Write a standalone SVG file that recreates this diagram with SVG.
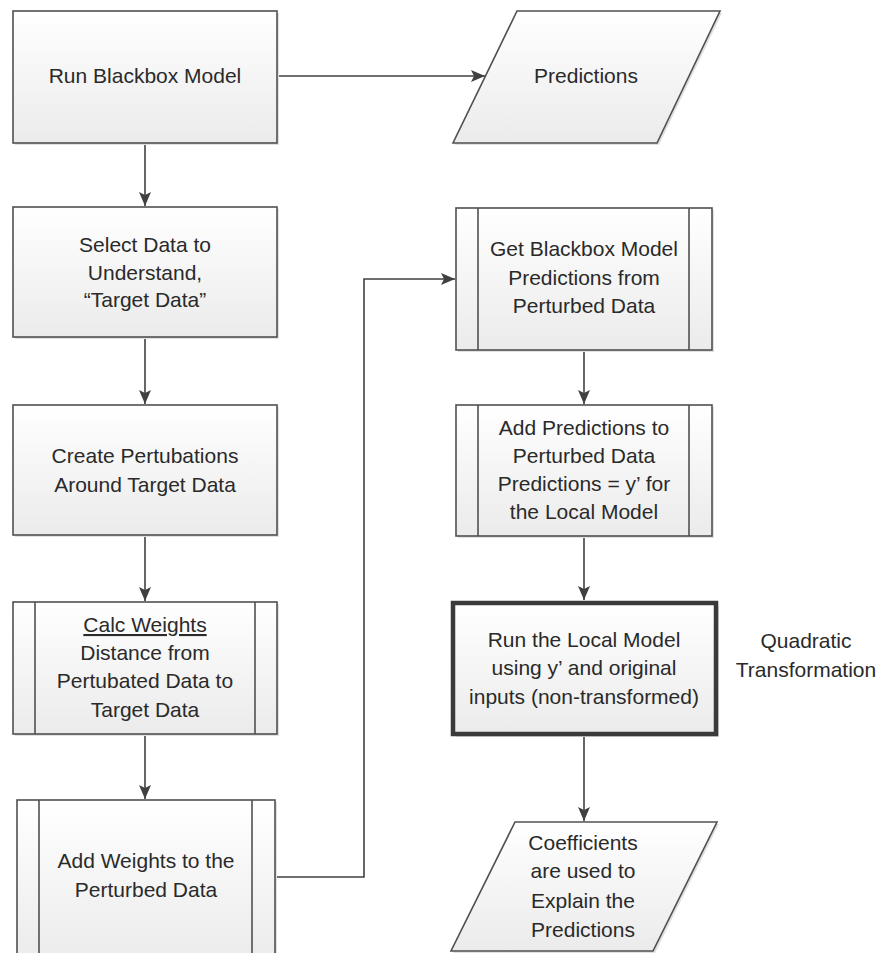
<svg xmlns="http://www.w3.org/2000/svg" width="887" height="953" viewBox="0 0 887 953">
<defs>
<linearGradient id="fill" x1="0" y1="0" x2="0" y2="1">
<stop offset="0" stop-color="#ffffff"/>
<stop offset="1" stop-color="#ebebeb"/>
</linearGradient>
<marker id="arr" viewBox="0 0 14 12" refX="14" refY="6" markerWidth="14" markerHeight="12" markerUnits="userSpaceOnUse" orient="auto">
<path d="M0,0 L14,6 L0,12 L3,6 Z" fill="#404040"/>
</marker>
<style>
.box{fill:url(#fill);stroke:#505050;stroke-width:1.6}
.sh{fill:#e0e0e0;stroke:none}
.bold{fill:url(#fill);stroke:#3a3a3a;stroke-width:4.5}
.inner{stroke:#505050;stroke-width:1.6;fill:none}
.t{font-family:"Liberation Sans",Arial,sans-serif;font-size:21px;fill:#2a2a2a;text-anchor:middle}
.c{stroke:#404040;stroke-width:1.6;fill:none}
</style>
</defs>
<rect width="887" height="953" fill="#ffffff"/>

<g id="connectors">
<line class="c" x1="277" y1="76" x2="485" y2="76" marker-end="url(#arr)"/>
<line class="c" x1="145" y1="143" x2="145" y2="206" marker-end="url(#arr)"/>
<line class="c" x1="145" y1="337" x2="145" y2="404" marker-end="url(#arr)"/>
<line class="c" x1="145" y1="535" x2="145" y2="601" marker-end="url(#arr)"/>
<line class="c" x1="145" y1="734" x2="145" y2="799" marker-end="url(#arr)"/>
<polyline class="c" points="275,877 364,877 364,279 455,279" marker-end="url(#arr)"/>
<line class="c" x1="584" y1="350" x2="584" y2="404" marker-end="url(#arr)"/>
<line class="c" x1="584" y1="536" x2="584" y2="600" marker-end="url(#arr)"/>
<line class="c" x1="584" y1="736" x2="584" y2="821" marker-end="url(#arr)"/>
</g>

<g id="n1">
<rect class="sh" x="15" y="13" width="264" height="132"/>
<rect class="box" x="13" y="11" width="264" height="132"/>
<text class="t" x="145" y="83">Run Blackbox Model</text>
</g>

<g id="n2">
<polygon class="sh" points="519,13 722,13 659,145 455,145"/>
<polygon class="box" points="517,11 720,11 657,143 453,143"/>
<text class="t" x="586" y="83">Predictions</text>
</g>

<g id="n3">
<rect class="sh" x="15" y="209" width="264" height="130"/>
<rect class="box" x="13" y="207" width="264" height="130"/>
<text class="t" x="145" y="252">Select Data to</text>
<text class="t" x="145" y="280">Understand,</text>
<text class="t" x="145" y="307">“Target Data”</text>
</g>

<g id="n4">
<rect class="sh" x="15" y="407" width="264" height="130"/>
<rect class="box" x="13" y="405" width="264" height="130"/>
<text class="t" x="145" y="463">Create Pertubations</text>
<text class="t" x="145" y="492">Around Target Data</text>
</g>

<g id="n5">
<rect class="sh" x="15" y="604" width="264" height="132"/>
<rect class="box" x="13" y="602" width="264" height="132"/>
<line class="inner" x1="35" y1="602" x2="35" y2="734"/>
<line class="inner" x1="255" y1="602" x2="255" y2="734"/>
<text class="t" x="145" y="632" text-decoration="underline">Calc Weights</text>
<text class="t" x="145" y="660">Distance from</text>
<text class="t" x="145" y="688">Pertubated Data to</text>
<text class="t" x="145" y="717">Target Data</text>
</g>

<g id="n6">
<rect class="sh" x="19" y="802" width="258" height="160"/>
<rect class="box" x="17" y="800" width="258" height="160"/>
<line class="inner" x1="39" y1="800" x2="39" y2="960"/>
<line class="inner" x1="252" y1="800" x2="252" y2="960"/>
<text class="t" x="146" y="868">Add Weights to the</text>
<text class="t" x="146" y="897">Perturbed Data</text>
</g>

<g id="n7">
<rect class="sh" x="458" y="210" width="256" height="142"/>
<rect class="box" x="456" y="208" width="256" height="142"/>
<line class="inner" x1="478" y1="208" x2="478" y2="350"/>
<line class="inner" x1="689" y1="208" x2="689" y2="350"/>
<text class="t" x="584" y="256">Get Blackbox Model</text>
<text class="t" x="584" y="285">Predictions from</text>
<text class="t" x="584" y="313">Perturbed Data</text>
</g>

<g id="n8">
<rect class="sh" x="458" y="407" width="256" height="131"/>
<rect class="box" x="456" y="405" width="256" height="131"/>
<line class="inner" x1="478" y1="405" x2="478" y2="536"/>
<line class="inner" x1="689" y1="405" x2="689" y2="536"/>
<text class="t" x="584" y="435">Add Predictions to</text>
<text class="t" x="584" y="463">Perturbed Data</text>
<text class="t" x="584" y="491">Predictions = y’ for</text>
<text class="t" x="584" y="519">the Local Model</text>
</g>

<g id="n9">
<rect class="sh" x="456" y="606" width="263" height="131"/>
<rect class="bold" x="453" y="603" width="263" height="131"/>
<text class="t" x="584" y="647">Run the Local Model</text>
<text class="t" x="584" y="675">using y’ and original</text>
<text class="t" x="584" y="704">inputs (non-transformed)</text>
</g>

<g id="n10">
<text class="t" x="806" y="648">Quadratic</text>
<text class="t" x="806" y="677">Transformation</text>
</g>

<g id="n11">
<polygon class="sh" points="517,824 719,824 655,953 453,953"/>
<polygon class="box" points="515,822 717,822 653,951 451,951"/>
<text class="t" x="583" y="850">Coefficients</text>
<text class="t" x="583" y="878">are used to</text>
<text class="t" x="583" y="908">Explain the</text>
<text class="t" x="583" y="937">Predictions</text>
</g>
</svg>
